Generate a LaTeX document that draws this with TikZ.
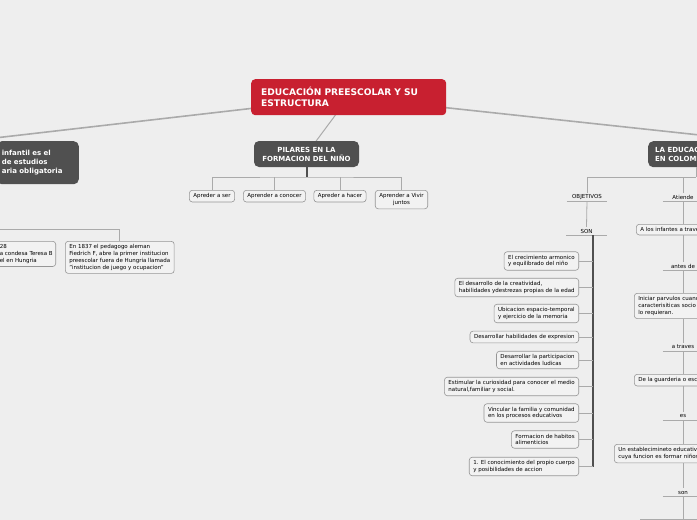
\documentclass[tikz,border=0pt]{standalone}
\usepackage{fontspec}
\setmainfont{DejaVu Sans}
\usetikzlibrary{positioning,backgrounds}
\definecolor{paper}{RGB}{238,238,238}
\definecolor{crimson}{RGB}{200,32,48}
\definecolor{slate}{RGB}{80,80,80}
\definecolor{wire}{RGB}{170,170,170}
\definecolor{rim}{RGB}{150,150,150}
\definecolor{leaffill}{RGB}{242,242,242}
\newcommand{\leaffont}{\fontsize{5.5}{6.8}\selectfont}
\newcommand{\topicfont}{\fontsize{7}{9}\selectfont\bfseries}
\newcommand{\rootfont}{\fontsize{9.1}{11}\selectfont\bfseries}

\begin{document}
\begin{tikzpicture}[x=1pt, y=-1pt,
    rootbox/.style={rectangle, fill=crimson, text=white, font=\rootfont, rounded corners=4pt, inner xsep=10pt, minimum width=195pt, minimum height=36pt, text width=175pt, align=left},
    topic/.style={rectangle, fill=slate, text=white, font=\topicfont, rounded corners=5pt, minimum height=26pt, inner xsep=7pt},
    leaf/.style={rectangle, draw=rim, line width=0.6pt, fill=leaffill, font=\leaffont, rounded corners=3pt, inner xsep=4pt, inner ysep=3.2pt, align=left},
    link/.style={draw=wire, line width=0.8pt},
    tag/.style={font=\leaffont, minimum width=40pt, minimum height=8pt, inner sep=0pt,
        append after command={(\tikzlastnode.south west) edge[link] (\tikzlastnode.south east)}},
    spine/.style={draw=slate, line width=2pt},
    bough/.style={draw=wire, line width=1.6pt}]

\begin{pgfonlayer}{background}
\fill[paper] (0,0) rectangle (697,520);
\end{pgfonlayer}
\useasboundingbox (0,0) rectangle (697,520);
\clip (0,0) rectangle (697,520);

% centre
\node[rootbox, anchor=north west] (root) at (251,79) {EDUCACIÓN PREESCOLAR Y SU\\ESTRUCTURA};

% main topics
\node[topic, anchor=north east, text width=72pt, align=left, inner xsep=5pt, minimum height=43pt] (infantil) at (79,141) {infantil es el\\de estudios\\aria obligatoria};
\node[topic, align=center, minimum width=105pt] (pilares) at (306.5,154) {PILARES EN LA\\FORMACION DEL NIÑO};
\node[topic, anchor=north west, align=left, minimum width=120pt] (colombia) at (648,141) {LA EDUCACION PREESCOLAR\\EN COLOMBIA};

\coordinate (lfar) at (-60,144.3);
\coordinate (rfar) at (760,141.5);
\begin{pgfonlayer}{background}
\draw[bough] (root.center) -- (lfar);
\draw[link, line width=1pt] (root.center) -- (pilares.center);
\draw[bough] (root.center) -- (rfar);
\end{pgfonlayer}

% pilares
\coordinate (pilhub) at (306.5,177);
\node[leaf, anchor=north] (ser) at (212,190) {Apreder a ser};
\node[leaf, anchor=north] (conocer) at (274.5,190) {Aprender a conocer};
\node[leaf, anchor=north] (hacer) at (340,190) {Apreder a hacer};
\node[leaf, anchor=north, align=center] (vivir) at (401.5,190) {Aprender a Vivir\\juntos};
\draw[spine] (pilares.south) -- (pilhub);
\draw[link] (ser.north) |- (pilhub) -| (vivir.north);
\draw[link] (conocer.north) -- (conocer.north |- pilhub);
\draw[link] (hacer.north) -- (hacer.north |- pilhub);

% history
\coordinate (histhub) at (-40,229);
\node[leaf, anchor=north east, inner xsep=3pt] (brunswick) at (56,241) {28\\a condesa Teresa B\\el en Hungria};
\node[leaf, anchor=north west] (froebel) at (65,241) {En 1837 el pedagogo aleman\\Fiedrich F, abre la primer institucion\\preescolar fuera de Hungria llamada\\"institucion de juego y ocupacion"};
\draw[link] (froebel.north) |- (histhub);

% colombia
\coordinate (colhub) at (696,177);
\coordinate (spinex) at (593,0);
\node[tag] (objetivos) at (587,197) {OBJETIVOS};
\node[tag] (son) at (586.5,231) {SON};
\node[tag] (atiende) at (683,197) {Atiende};
\draw[link] (colombia.south -| colhub) -- (colhub);
\draw[link] (objetivos.north) |- (colhub);
\draw[link] (atiende.north) -- (atiende.north |- colhub);
\draw[link] (objetivos.south) -- (son.north);

\node[leaf, anchor=east] (o1) at (579,261) {El crecimiento armonico\\y equilibrado del niño};
\node[leaf, anchor=east] (o2) at (579,287.5) {El desarrollo de la creatividad,\\habilidades ydestrezas propias de la edad};
\node[leaf, anchor=east] (o3) at (579,313.5) {Ubicacion espacio-temporal\\y ejercicio de la memoria};
\node[leaf, anchor=east] (o4) at (579,337) {Desarrollar habilidades de expresion};
\node[leaf, anchor=east] (o5) at (579,360) {Desarrollar la participacion\\en actividades ludicas};
\node[leaf, anchor=east] (o6) at (579,386.5) {Estimular la curiosidad para conocer el medio\\natural,familiar y social.};
\node[leaf, anchor=east] (o7) at (579,413) {Vincular la familia y comunidad\\en los procesos educativos};
\node[leaf, anchor=east] (o8) at (579,439.5) {Formacion de habitos\\alimenticios};
\node[leaf, anchor=east] (o9) at (579,466.5) {1. El conocimiento del propio cuerpo\\y posibilidades de accion};
\draw[spine] (son.south -| spinex) -- (o9.east -| spinex);
\foreach \o in {o1,o2,o3,o4,o5,o6,o7,o8,o9}
    \draw[link] (\o.east) -- (\o.east -| spinex);

% atiende
\node[leaf, anchor=north west, text width=100pt] (infantes) at (636,224) {A los infantes a traves};
\node[tag] (antes) at (683,266) {antes de};
\node[leaf, anchor=north west, text width=100pt] (iniciar) at (634,293) {Iniciar parvulos cuando\\caracterisiticas socio\\lo requieran.};
\node[tag] (atraves) at (683,347) {a traves};
\node[leaf, anchor=north west, text width=100pt] (guarderia) at (634,374) {De la guarderia o esc};
\node[tag] (es) at (683,416) {es};
\node[leaf, anchor=north west, text width=110pt] (establ) at (614,444) {Un establecimineto educativ\\cuya funcion es formar niños};
\node[tag] (sonb) at (683,492.5) {son};
\coordinate (nextleft) at (640,519);
\coordinate (nextright) at (720,519);
\draw[link] (atiende.south) -- (atiende.south |- infantes.north);
\draw[link] (atiende.south |- infantes.south) -- (antes.north);
\draw[link] (antes.south) -- (antes.south |- iniciar.north);
\draw[link] (antes.south |- iniciar.south) -- (atraves.north);
\draw[link] (atraves.south) -- (atraves.south |- guarderia.north);
\draw[link] (atraves.south |- guarderia.south) -- (es.north);
\draw[link] (es.south) -- (es.south |- establ.north);
\draw[link] (es.south |- establ.south) -- (sonb.north);
\draw[link] (sonb.south) -- (sonb.south |- nextleft);
\draw[link] (nextleft) -- (nextright);

\end{tikzpicture}
\end{document}
